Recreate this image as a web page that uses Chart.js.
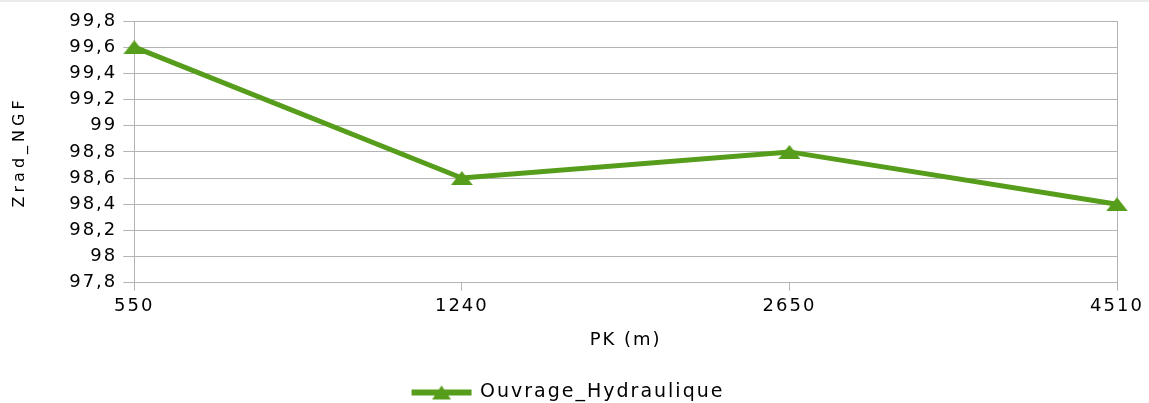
<!DOCTYPE html>
<html>
<head>
<meta charset="utf-8">
<script src="https://cdn.jsdelivr.net/npm/chart.js@4"></script>
<style>
    html, body { margin: 0; padding: 0; background: #fff; overflow: hidden; }
    #band { height: 2px; background: #ebebeb; }
    #wrap { position: relative; width: 1149px; height: 420px; }
</style>
</head>
<body>
<div id="band"></div>
<div id="wrap"><canvas id="profile-chart"></canvas></div>
<script>
    // start: data
    const categories = ['550', '1240', '2650', '4510'];
    const zradValues = [99.6, 98.6, 98.8, 98.4];
    const seriesName = 'Ouvrage_Hydraulique';
    const yTicks = { min: 97.8, max: 99.8, step: 0.2 };
    // end: data

    const green = '#579d1c';
    const gridColor = '#b3b3b3';
    const fontFamily = '"DejaVu Sans", Verdana, sans-serif';

    // flat triangle marker used on the line
    const marker = document.createElement('canvas');
    marker.width = 22;
    marker.height = 14;
    const mk = marker.getContext('2d');
    mk.fillStyle = green;
    mk.beginPath();
    mk.moveTo(11, 0);
    mk.lineTo(22, 14);
    mk.lineTo(0, 14);
    mk.closePath();
    mk.fill();

    // legend mark: line with triangle (blank on the left to push it right)
    const mark = document.createElement('canvas');
    mark.width = 82;
    mark.height = 16;
    const m = mark.getContext('2d');
    m.fillStyle = green;
    m.fillRect(21, 5, 60, 6);
    m.beginPath();
    m.moveTo(51, 1);
    m.lineTo(60.5, 15);
    m.lineTo(41.5, 15);
    m.closePath();
    m.fill();

    // text in the reference is spread out; y title even more
    const spacing = {
        id: 'spacing',
        beforeUpdate(chart) { chart.ctx.letterSpacing = '2px'; },
        beforeDraw(chart) {
            chart.ctx.letterSpacing = '2px';
            const y = chart.scales.y;
            if (y && !y._spaced) {
                const drawTitle = y.drawTitle;
                y.drawTitle = function() {
                    const prev = this.ctx.letterSpacing;
                    this.ctx.letterSpacing = '4px';
                    drawTitle.call(this);
                    this.ctx.letterSpacing = prev;
                };
                y._spaced = true;
            }
        }
    };

    const profileChart = new Chart(document.getElementById('profile-chart'), {
        type: 'line',
        data: {
            labels: categories,
            datasets: [{
                label: seriesName,
                data: zradValues,
                borderColor: green,
                backgroundColor: green,
                borderWidth: 5,
                pointStyle: marker,
                pointRadius: 10,
                pointHoverRadius: 10,
                tension: 0
            }]
        },
        options: {
            responsive: true,
            maintainAspectRatio: false,
            animation: false,
            layout: {
                padding: { top: 19, right: 32, bottom: 10, left: 0 }
            },
            scales: {
                x: {
                    offset: false,
                    grid: {
                        color: (c) => (c.index === 0 || c.index === categories.length - 1) ? gridColor : 'transparent',
                        tickColor: gridColor,
                        tickLength: 8
                    },
                    border: { color: gridColor },
                    ticks: {
                        color: '#000',
                        padding: 5,
                        maxRotation: 0,
                        font: { family: fontFamily, size: 18 }
                    },
                    title: {
                        display: true,
                        text: 'PK (m)',
                        color: '#000',
                        font: { family: fontFamily, size: 18 },
                        padding: { top: 7, bottom: 22 }
                    }
                },
                y: {
                    min: yTicks.min,
                    max: yTicks.max,
                    grid: {
                        color: gridColor,
                        tickColor: gridColor,
                        tickLength: 11
                    },
                    border: { color: gridColor },
                    ticks: {
                        stepSize: yTicks.step,
                        color: '#000',
                        padding: 6,
                        font: { family: fontFamily, size: 18 },
                        callback: (v) => String(Math.round(v * 10) / 10).replace('.', ',')
                    },
                    title: {
                        display: true,
                        text: 'Zrad_NGF',
                        color: '#000',
                        font: { family: fontFamily, size: 16 },
                        padding: { top: 10, bottom: 34 }
                    }
                }
            },
            plugins: {
                legend: {
                    position: 'bottom',
                    labels: {
                        color: '#000',
                        usePointStyle: true,
                        pointStyle: mark,
                        pointStyleWidth: 78,
                        padding: 10,
                        font: { family: fontFamily, size: 19 }
                    }
                },
                tooltip: { enabled: false }
            }
        },
        plugins: [spacing]
    });
</script>
</body>
</html>
